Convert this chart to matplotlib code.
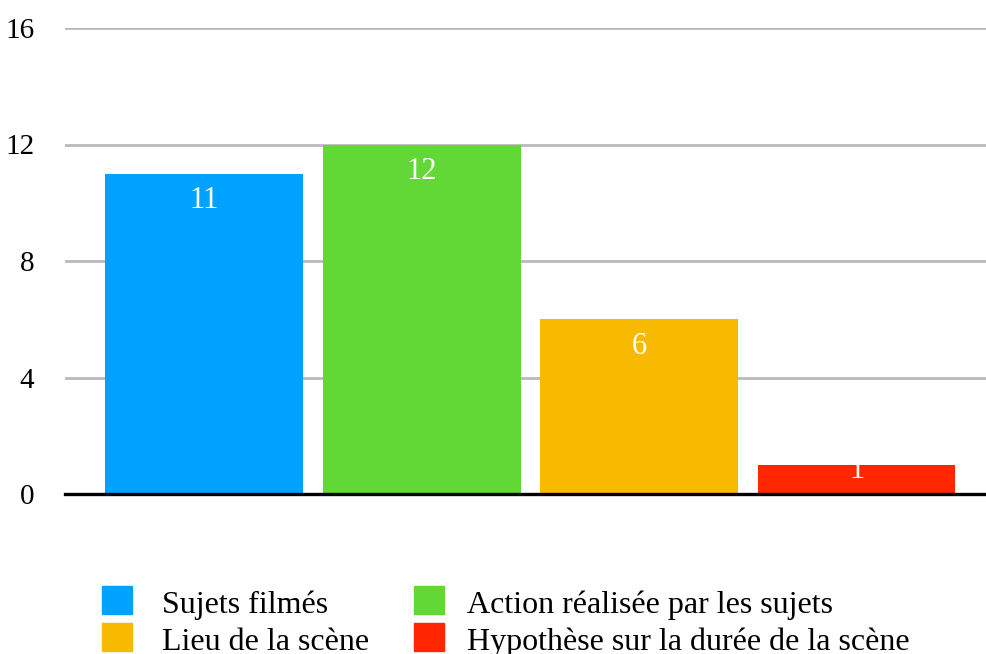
import matplotlib.pyplot as plt
from matplotlib.patches import Rectangle

# Chart data
categories = ['Sujets filmés', 'Action réalisée par les sujets',
              'Lieu de la scène', 'Hypothèse sur la durée de la scène']
values = [11, 12, 6, 1]
colors = ['#00a2ff', '#61d836', '#f8ba00', '#ff2600']
yticks = [0, 4, 8, 12, 16]

plt.rcParams['font.family'] = ['Liberation Serif', 'DejaVu Serif']

W, H = 987, 654
fig = plt.figure(figsize=(W / 100, H / 100), dpi=100)
ax = fig.add_axes([65 / W, 1 - 494 / H, 1 - 65 / W, (494 - 28) / H])

x = range(len(values))
bars = ax.bar(x, values, width=0.91, color=colors, zorder=2)

# value labels in white, near the top of each bar
for b, v in zip(bars, values):
    ax.text(b.get_x() + b.get_width() / 2, max(v - 0.93, 0.8), str(v),
            ha='center', va='center', color='white', fontsize=22, zorder=3)

ax.set_xlim(-0.64, 3.6)
ax.set_ylim(0, 16)
ax.set_yticks(yticks)
ax.set_xticks([])
ax.yaxis.grid(True, color='#bababa', linewidth=2, zorder=0)
ax.axhline(0, color='black', linewidth=2.4, zorder=4, clip_on=False)
ax.tick_params(axis='y', length=0, pad=22, labelsize=21)
for s in ax.spines.values():
    s.set_visible(False)

# legend, two columns drawn by hand in pixel positions
legend_pos = [(102, 586), (414, 586), (102, 623), (414, 623)]
text_x = [162, 467, 162, 467]
order = [0, 1, 2, 3]
for (px, py), tx, i in zip(legend_pos, text_x, order):
    fig.patches.append(Rectangle((px / W, 1 - (py + 28) / H), 30 / W, 28 / H,
                                 transform=fig.transFigure, color=colors[i]))
    fig.text(tx / W, 1 - (py + 27) / H, categories[i], fontsize=23,
             ha='left', va='baseline')

fig.savefig('out.png', dpi=100)
